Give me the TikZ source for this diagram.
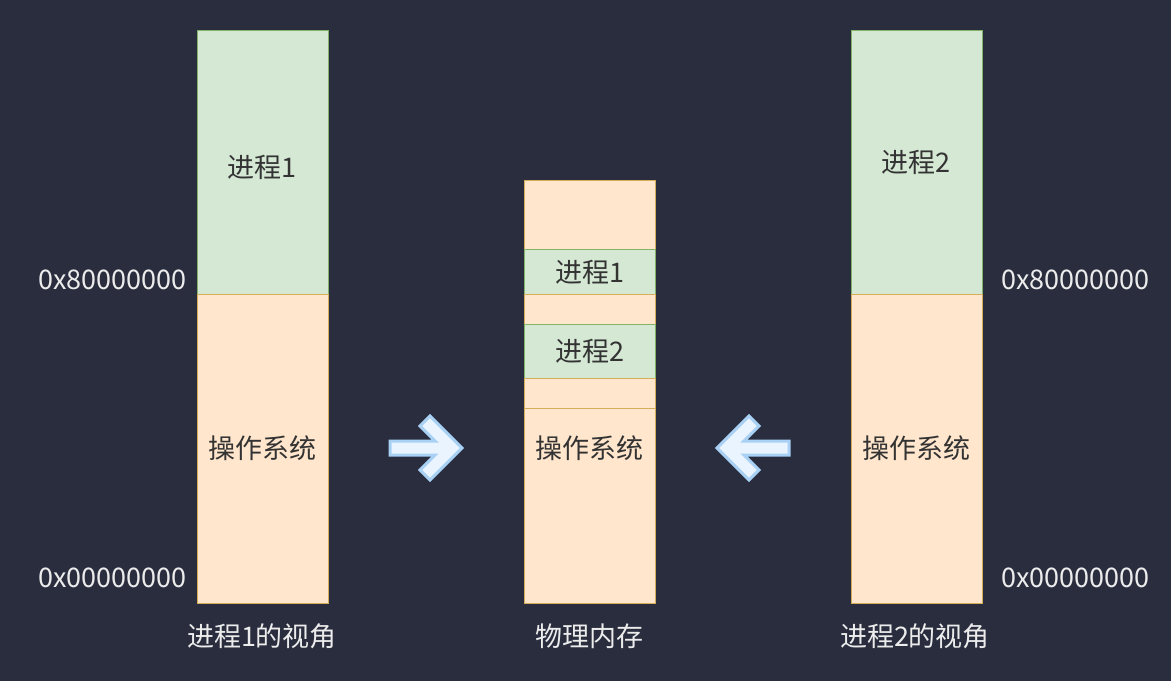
\documentclass[tikz,border=0pt]{standalone}
\usepackage{fontspec}
\setmainfont{Noto Sans CJK SC}
\definecolor{bg}{HTML}{292D3E}
\definecolor{peach}{HTML}{FFE6CC}
\definecolor{peachline}{HTML}{D6AE5A}
\definecolor{mint}{HTML}{D5E8D4}
\definecolor{mintline}{HTML}{82B366}
\definecolor{ink}{HTML}{333333}
\definecolor{pale}{HTML}{ECECEC}
\definecolor{arrowfill}{HTML}{EAF4FF}
\definecolor{arrowedge}{HTML}{A9D0F5}
\tikzset{
  seg/.style={draw, line width=1.4pt, minimum width=131pt, inner sep=0pt, anchor=north west,
    font=\fontsize{27}{32}\selectfont, text=ink},
  os/.style={seg, fill=peach, draw=peachline},
  proc/.style={seg, fill=mint, draw=mintline},
  intext/.style={text=ink, font=\fontsize{27}{32}\selectfont},
  addr/.style={font=\fontsize{27}{32}\selectfont, text=pale},
  caption/.style={font=\fontsize{27}{32}\selectfont, text=pale},
  bigarrow/.style={fill=arrowfill, draw=arrowedge, line width=3pt, line join=miter}
}
\begin{document}
\begin{tikzpicture}[x=1pt,y=-1pt]
  \fill[bg] (0,0) rectangle (1171,681);
  \useasboundingbox (0,0) rectangle (1171,681);

  % process 1 view
  \node[proc, minimum height=264pt] (l1) at (197,30) {};
  \node[os, minimum height=309pt] (los) at (197,294) {};
  \node[intext] (l1t) at (262,167) {进程1};
  \node[intext] (lost) at (262,448) {操作系统};
  \node[addr, anchor=east] (la8) at (190,280) {0x80000000};
  \node[addr, anchor=east] (la0) at (190,578) {0x00000000};
  \node[caption] (lc) at (262,636) {进程1的视角};

  % physical memory
  \node[os, minimum height=69pt] (m0) at (524,180) {};
  \node[proc, minimum height=45pt] (m1) at (524,249) {进程1};
  \node[os, minimum height=30pt] (m2) at (524,294) {};
  \node[proc, minimum height=54pt] (m3) at (524,324) {进程2};
  \node[os, minimum height=30pt] (m4) at (524,378) {};
  \node[os, minimum height=195pt] (m5) at (524,408) {};
  \node[intext] (mos) at (589,448) {操作系统};
  \node[caption] (mc) at (589,636) {物理内存};

  % process 2 view
  \node[proc, minimum height=264pt] (r1) at (851,30) {};
  \node[os, minimum height=309pt] (ros) at (851,294) {};
  \node[intext] (r1t) at (916,162) {进程2};
  \node[intext] (rost) at (916,448) {操作系统};
  \node[addr, anchor=west] (ra8) at (998,280) {0x80000000};
  \node[addr, anchor=west] (ra0) at (998,578) {0x00000000};
  \node[caption] (rc) at (915,636) {进程2的视角};

  % mapping arrows
  \draw[bigarrow] (390,441) -- (435,441) -- (420,426) -- (430,416) -- (462,448)
    -- (430,480) -- (420,470) -- (435,455) -- (390,455) -- cycle;
  \draw[bigarrow] (789,441) -- (744,441) -- (759,426) -- (749,416) -- (717,448)
    -- (749,480) -- (759,470) -- (744,455) -- (789,455) -- cycle;
\end{tikzpicture}
\end{document}
